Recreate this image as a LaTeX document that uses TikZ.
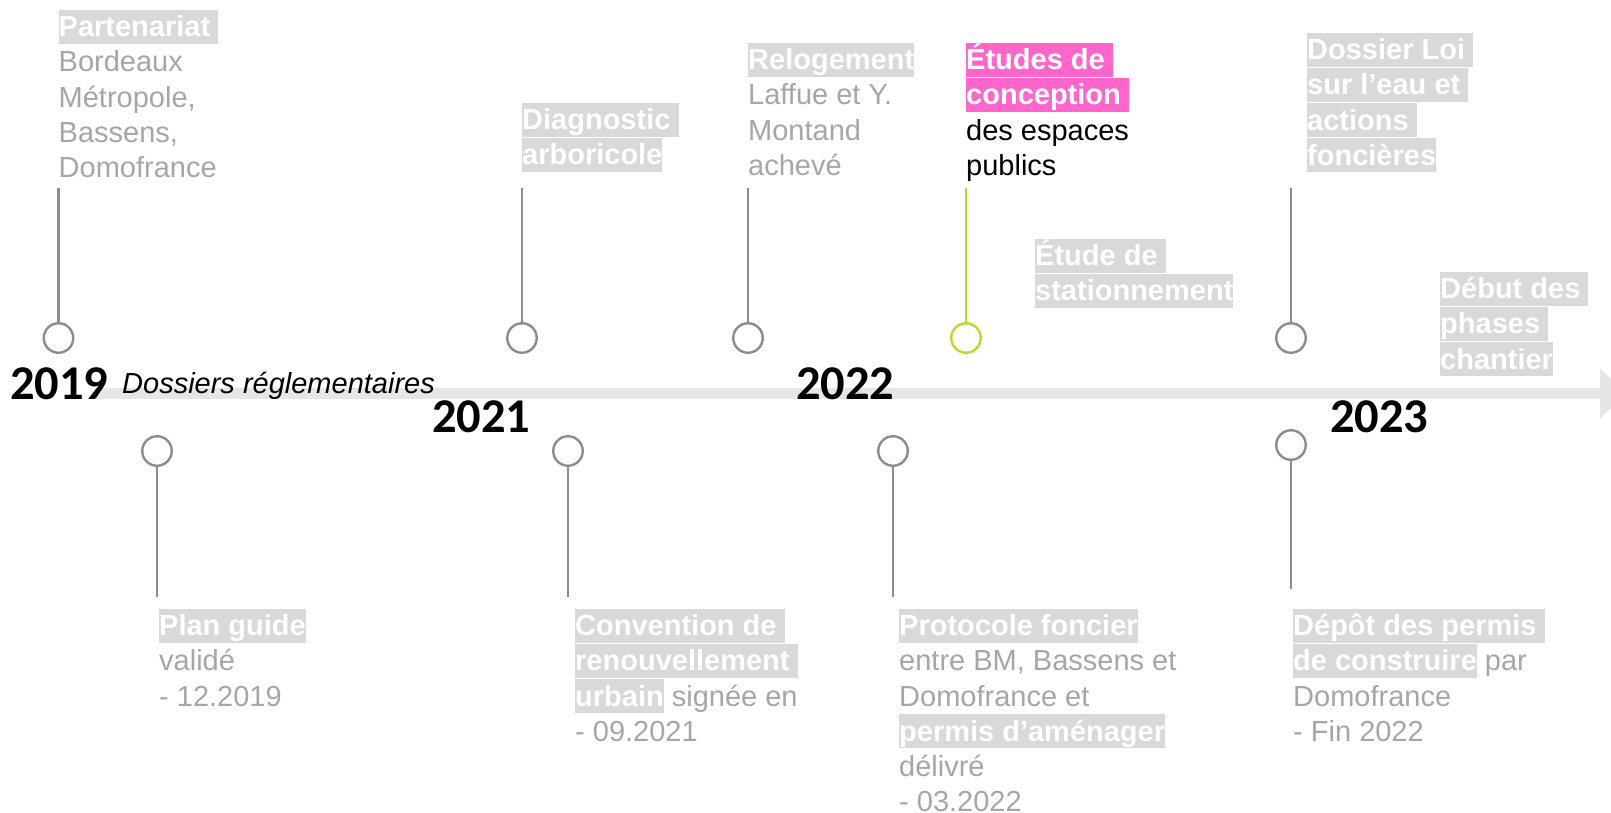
\documentclass[tikz,border=0pt]{standalone}
\usepackage{fontspec}
\setmainfont{Liberation Sans}
\newfontfamily\yearfont{Carlito}
\definecolor{txtgray}{HTML}{A6A6A6}
\definecolor{hlgray}{HTML}{D9D9D9}
\definecolor{linegray}{HTML}{8C8C8C}
\definecolor{bargray}{HTML}{E6E6E6}
\definecolor{limegreen}{HTML}{BFD62F}
\definecolor{hotpink}{HTML}{FF66CC}
\newcommand\hl[2][hlgray]{{\setlength{\fboxsep}{0pt}\colorbox{#1}{\rule[-7pt]{0pt}{34pt}\textcolor{white}{\bfseries #2}}}}
\begin{document}
\begin{tikzpicture}[x=1pt,y=-1pt,
  txt/.style={font=\fontsize{29}{35.2}\selectfont, text=txtgray, align=left, inner sep=0pt, anchor=north west},
  year/.style={font=\yearfont\bfseries\fontsize{48.5}{48.5}\selectfont, text=black, inner sep=0pt, anchor=base west},
  dot/.style={circle, draw=linegray, line width=2.4pt, minimum size=29.5pt, inner sep=0pt, fill=white},
  conn/.style={draw=linegray, line width=2.4pt},
  greendot/.style={dot, draw=limegreen},
  greenconn/.style={draw=limegreen, line width=2.4pt}]
\useasboundingbox (0,0) rectangle (1611,812);
\clip (0,0) rectangle (1611,812);
% timeline bar
\coordinate (barstart) at (95,393.5);
\coordinate (barend) at (1600,393.5);
\draw[bargray, line width=10.5pt] (barstart) -- (barend);
\fill[bargray] (1600,368) -- (1625,393.5) -- (1600,419) -- cycle;
% years
\node[year] (y2019) at (10,399) {2019};
\node[year] (y2021) at (432,432) {2021};
\node[year] (y2022) at (796,399) {2022};
\node[year] (y2023) at (1330,432) {2023};
\node[font=\fontsize{29}{35.2}\selectfont\itshape, inner sep=0pt, anchor=base west] (dossiers) at (122,393) {Dossiers réglementaires};
% top events
\node[dot] (c1) at (58.5,338) {};
\node[dot] (c2) at (522,338) {};
\node[dot] (c3) at (748,338) {};
\node[greendot] (c4) at (966,338) {};
\node[dot] (c5) at (1291,338) {};
\coordinate (t1) at (58.5,188);
\coordinate (t2) at (522,188);
\coordinate (t3) at (748,188);
\coordinate (t4) at (966,188);
\coordinate (t5) at (1291,188);
\draw[conn] (t1) -- (c1);
\draw[conn] (t2) -- (c2);
\draw[conn] (t3) -- (c3);
\draw[greenconn] (t4) -- (c4);
\draw[conn] (t5) -- (c5);
% bottom events
\node[dot] (b1) at (157,451) {};
\node[dot] (b2) at (568,451) {};
\node[dot] (b3) at (893,451) {};
\node[dot] (b4) at (1291,445) {};
\coordinate (e1) at (157,597);
\coordinate (e2) at (568,597);
\coordinate (e3) at (893,597);
\coordinate (e4) at (1291,589);
\draw[conn] (b1) -- (e1);
\draw[conn] (b2) -- (e2);
\draw[conn] (b3) -- (e3);
\draw[conn] (b4) -- (e4);
% top texts
\node[txt] (n1) at (58.5,9.5) {\hl{Partenariat }\\Bordeaux\\Métropole,\\Bassens,\\Domofrance};
\node[txt] (n2) at (522,102.5) {\hl{Diagnostic }\\\hl{arboricole}};
\node[txt] (n3) at (748,42.5) {\hl{Relogement}\\Laffue et Y.\\Montand\\achevé};
\node[txt, text=black] (n4) at (966,42.5) {\hl[hotpink]{Études de }\\\hl[hotpink]{conception }\\des espaces\\publics};
\node[txt] (n5) at (1035,238.5) {\hl{Étude de }\\\hl{stationnement}};
\node[txt] (n6) at (1307,32.5) {\hl{Dossier Loi }\\\hl{sur l’eau et }\\\hl{actions }\\\hl{foncières}};
\node[txt] (n7) at (1440,271.5) {\hl{Début des }\\\hl{phases }\\\hl{chantier}};
% bottom texts
\node[txt] (n8) at (159,608.5) {\hl{Plan guide}\\validé\\- 12.2019};
\node[txt] (n9) at (575,608.5) {\hl{Convention de }\\\hl{renouvellement }\\\hl{urbain} signée en\\- 09.2021};
\node[txt] (n10) at (899,608.5) {\hl{Protocole foncier}\\entre BM, Bassens et\\Domofrance et\\\hl{permis d’aménager}\\délivré\\- 03.2022};
\node[txt] (n11) at (1293,608.5) {\hl{Dépôt des permis }\\\hl{de construire} par\\Domofrance\\- Fin 2022};
\end{tikzpicture}
\end{document}
